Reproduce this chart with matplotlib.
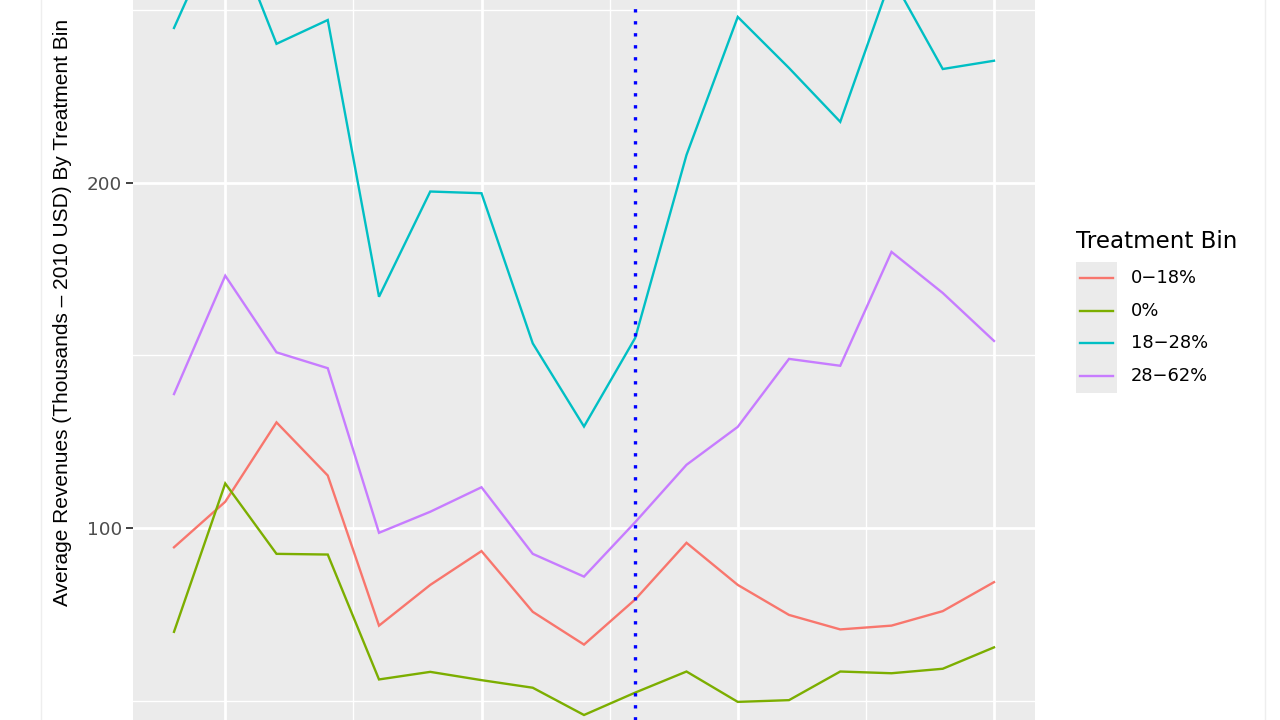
import matplotlib
matplotlib.use("Agg")
import matplotlib.pyplot as plt
from matplotlib.lines import Line2D
from matplotlib.patches import Rectangle
import numpy as np

years = list(range(1999, 2016))
bins = ["0\u221218%", "0%", "18\u221228%", "28\u221262%"]
colors = ["#F8766D", "#7CAE00", "#00BFC4", "#C77CFF"]

rev_0_18 = [94.4, 107.6, 130.6, 115.2, 71.7, 83.5, 93.3, 75.7, 66.2, 79.3,
            95.7, 83.5, 74.8, 70.6, 71.7, 75.9, 84.3]
rev_0 = [69.9, 112.9, 92.5, 92.3, 56.1, 58.3, 55.9, 53.7, 45.8, 52.3,
         58.4, 49.6, 50.1, 58.4, 57.9, 59.2, 65.4]
rev_18_28 = [244.9, 278.0, 240.3, 247.2, 167.0, 197.5, 197.0, 153.5, 129.4, 155.1,
             208.1, 248.1, 233.3, 217.7, 259.7, 233.0, 235.4]
rev_28_62 = [138.8, 173.1, 150.9, 146.3, 98.6, 104.7, 111.8, 92.5, 85.9, 101.7,
             118.3, 129.3, 149.0, 147.0, 180.0, 168.1, 154.2]
series = [rev_0_18, rev_0, rev_18_28, rev_28_62]

event_year = 2008
x_major = [2000, 2005, 2010, 2015]
x_minor = [2002.5, 2007.5, 2012.5]
y_major = [100, 200]
y_minor = [50, 150, 250]

W, H = 1280, 720
fig = plt.figure(figsize=(12.8, 7.2), dpi=100)
fig.patch.set_facecolor("white")

ax = fig.add_axes([133 / W, 0, (1035 - 133) / W, 1])
ax.set_facecolor("#EBEBEB")
for s in ax.spines.values():
    s.set_visible(False)

ax.set_xlim(1998.2, 2015.8)
ax.set_ylim(44.35, 253.0)

for v in x_minor:
    ax.axvline(v, color="white", lw=1.0, zorder=0.5)
for v in y_minor:
    ax.axhline(v, color="white", lw=1.0, zorder=0.5)
for v in x_major:
    ax.axvline(v, color="white", lw=2.0, zorder=0.6)
for v in y_major:
    ax.axhline(v, color="white", lw=2.0, zorder=0.6)

for vals, c in zip(series, colors):
    ax.plot(years, vals, color=c, lw=1.7, zorder=2, solid_joinstyle="miter")

ax.axvline(event_year, color="#0000FF", lw=2.4, linestyle=(0, (1.0, 2.6)), zorder=3)

ax.set_xticks([])
ax.set_yticks(y_major)
ax.set_yticklabels([str(v) for v in y_major])
ax.tick_params(axis="y", length=5, width=1.3, color="#333333", labelcolor="#4D4D4D",
               labelsize=13.2, pad=3)
for t in ax.get_yticklabels():
    t.set_family(["DejaVu Sans"])

fig.text(63 / W, 1 - 312 / H, "Average Revenues (Thousands \u2013 2010 USD) By Treatment Bin",
         rotation=90, ha="center", va="center", fontsize=15.0, color="black",
         family=["Liberation Sans", "DejaVu Sans"])

# faint page edges
fig.add_artist(Line2D([41 / W, 41 / W], [0, 1], color="#EEEEEE", lw=1.0))
fig.add_artist(Line2D([1265 / W, 1265 / W], [0, 1], color="#EEEEEE", lw=1.0))

# legend
fig.text(1076 / W, 1 - 242 / H, "Treatment Bin", ha="left", va="center", fontsize=16.6,
         color="black", family=["DejaVu Sans"])
fig.add_artist(Rectangle((1076 / W, 1 - 393 / H), 41 / W, 131 / H,
                         facecolor="#EBEBEB", edgecolor="none"))
rows = [278, 311, 343, 376]
for lab, c, ry in zip(bins, colors, rows):
    fig.add_artist(Line2D([1080 / W, 1113 / W], [1 - ry / H, 1 - ry / H], color=c, lw=1.7))
    fig.text(1131 / W, 1 - ry / H, lab, ha="left", va="center", fontsize=12.9,
             color="black", family=["DejaVu Sans"])

fig.savefig("out.png", dpi=100)
